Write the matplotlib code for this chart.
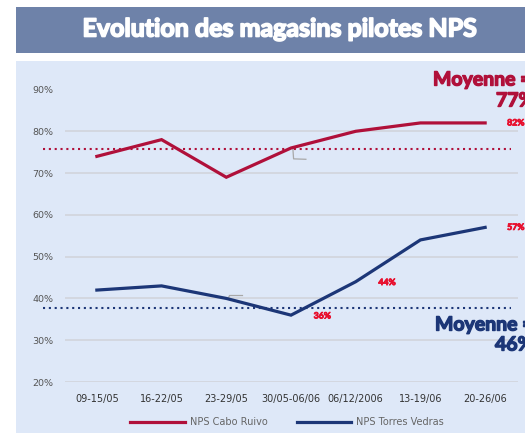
import matplotlib
matplotlib.use("Agg")
import matplotlib.pyplot as plt
from matplotlib.patches import Rectangle
import matplotlib.patheffects as pe

categories = ["09-15/05", "16-22/05", "23-29/05", "30/05-06/06", "06/12/2006", "13-19/06", "20-26/06"]
cabo_ruivo = [74, 78, 69, 76, 80, 82, 82]
torres_vedras = [42, 43, 40, 36, 44, 54, 57]
mean_cabo_line = 75.7
mean_torres_line = 37.6
mean_cabo_label = "77%"
mean_torres_label = "46%"
yticks = [20, 30, 40, 50, 60, 70, 80, 90]
point_labels = {  # (series, index) -> text
    ("cabo", 6): "82%",
    ("torres", 6): "57%",
    ("torres", 4): "44%",
    ("torres", 3): "36%",
}

RED = "#B0103A"
NAVY = "#1C3677"
LABEL_RED = "#E8102E"
PANEL = "#DEE8F8"
BANNER = "#6E82A9"

W, H = 525, 433
fig = plt.figure(figsize=(W / 100, H / 100), dpi=100)
fig.patch.set_facecolor("white")

# banner and panel
fig.patches.append(Rectangle((16 / W, 1 - 53 / H), 1, 46 / H, transform=fig.transFigure,
                             facecolor=BANNER, edgecolor="none", zorder=-2))
fig.patches.append(Rectangle((16 / W, 0), 1, 1 - 61 / H, transform=fig.transFigure,
                             facecolor=PANEL, edgecolor="none", zorder=-2))


def heavy(c, w=0.9):
    return [pe.withStroke(linewidth=w, foreground=c)]


fig.text(280 / W, 1 - 29 / H, "Evolution des magasins pilotes NPS", ha="center", va="center",
         color="white", fontsize=18, fontweight="bold", family="Lato",
         path_effects=heavy("white", 1.2))

ax = fig.add_axes([64.5 / W, 1 - 382 / H, 453 / W, (382 - 89.5) / H])
ax.set_facecolor("none")
x = list(range(len(categories)))
ax.set_xlim(-0.5, len(categories) - 0.5)
ax.set_ylim(20, 90)
ax.set_yticks(yticks)
ax.set_yticklabels([f"{v}%" for v in yticks])
ax.set_xticks(x)
ax.set_xticklabels(categories)
ax.tick_params(axis="both", length=0)
ax.tick_params(axis="y", labelsize=6.8, labelcolor="#555555", pad=8)
ax.tick_params(axis="x", labelsize=7, labelcolor="#333333", pad=8.5)
for s in ax.spines.values():
    s.set_visible(False)
for v in yticks:
    ax.axhline(v, color="#D2D6DE", lw=1.3, zorder=1)

ax.plot(x, cabo_ruivo, color=RED, lw=2.3, zorder=4, label="NPS Cabo Ruivo", solid_joinstyle="miter")
ax.plot(x, torres_vedras, color=NAVY, lw=2.3, zorder=4, label="NPS Torres Vedras", solid_joinstyle="miter")

# mean dotted lines
xl = [-0.83, 6.4]
ax.plot(xl, [mean_cabo_line] * 2, color=RED, lw=1.5, ls=(0, (1, 1.8)), clip_on=False, zorder=3)
ax.plot(xl, [mean_torres_line] * 2, color=NAVY, lw=1.5, ls=(0, (1, 1.8)), clip_on=False, zorder=3)

# gray leader marks
ax.plot([3.03, 3.04, 3.23], [75.6, 73.4, 73.3], color="#A8A8A8", lw=0.9, zorder=3)
ax.plot([2.03, 2.05, 2.25], [40.0, 40.7, 40.7], color="#A8A8A8", lw=0.9, zorder=3)

# point labels
offsets = {("cabo", 6): (0.34, 0), ("torres", 6): (0.34, 0), ("torres", 4): (0.35, -0.2),
           ("torres", 3): (0.35, -0.2)}
for (series, i), txt in point_labels.items():
    vals = cabo_ruivo if series == "cabo" else torres_vedras
    dx, dy = offsets[(series, i)]
    ax.text(i + dx, vals[i] + dy, txt, color=LABEL_RED, fontsize=6.3, fontweight="bold",
            family="Lato", ha="left", va="center", clip_on=False, path_effects=heavy(LABEL_RED, 0.6))

# Moyenne labels
for txt, px, py, c in [("Moyenne =", 433, 80, RED), (mean_cabo_label, 496, 101, RED),
                       ("Moyenne =", 435, 325, NAVY), (mean_torres_label, 495, 345, NAVY)]:
    fig.text(px / W, 1 - py / H, txt, color=c, fontsize=14, fontweight="bold",
             family="Lato", ha="left", va="center", path_effects=heavy(c, 1.0))

leg = ax.legend(loc="center", bbox_to_anchor=(287 / W, 1 - 422 / H), bbox_transform=fig.transFigure,
                ncol=2, frameon=False, fontsize=7, handlelength=5.6, handletextpad=0.5,
                columnspacing=3.0, labelcolor="#666666")

fig.savefig("out.png", dpi=100)
